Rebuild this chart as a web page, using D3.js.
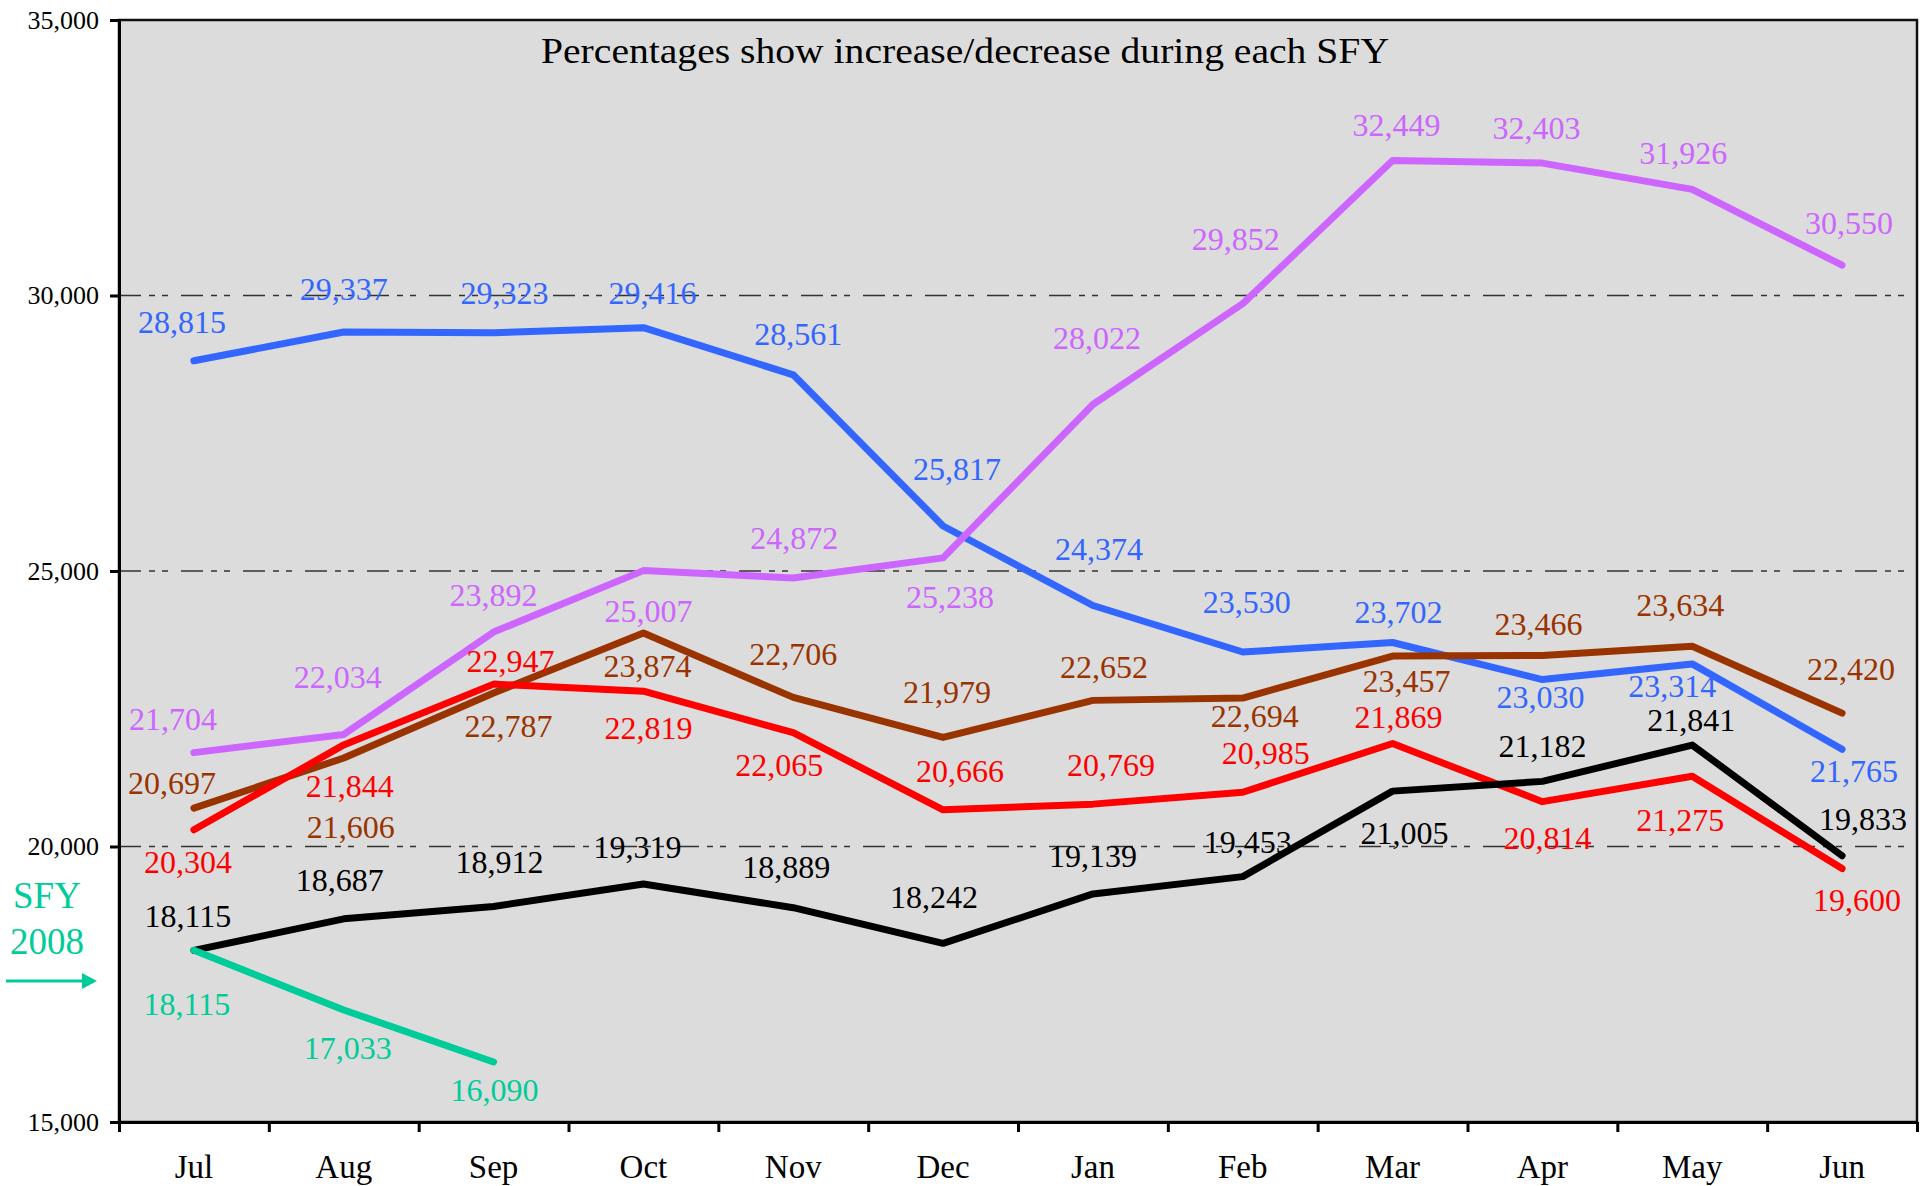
<!DOCTYPE html>
<html lang="en">
  <head>
    <meta charset="utf-8">
    <title>SFY monthly counts</title>
    <script src="https://cdn.jsdelivr.net/npm/d3@7"></script>
    <style>
      body { margin: 0; background: #fff; }
      text { font-family: "Liberation Serif", "DejaVu Serif", serif; }
    </style>
  </head>
  <body>
    <div id="main"></div>
  </body>

  <script type="text/javascript">

      // months of the state fiscal year
      const months = ['Jul','Aug','Sep','Oct','Nov','Dec','Jan','Feb','Mar','Apr','May','Jun'];
      const yTicks = [15000, 20000, 25000, 30000, 35000];
      const gridTicks = [20000, 25000, 30000];

      // one array per year line
      const blueVals   = [28815,29337,29323,29416,28561,25817,24374,23530,23702,23030,23314,21765];
      const purpleVals = [21704,22034,23892,25007,24872,25238,28022,29852,32449,32403,31926,30550];
      const brownVals  = [20697,21606,22787,23874,22706,21979,22652,22694,23457,23466,23634,22420];
      const redVals    = [20304,21844,22947,22819,22065,20666,20769,20985,21869,20814,21275,19600];
      const blackVals  = [18115,18687,18912,19319,18889,18242,19139,19453,21005,21182,21841,19833];
      const greenVals  = [18115,17033,16090];

      // where each value label sits relative to its point (px)
      const blueLbl   = [[-12,-39],[0,-43],[11,-40],[9,-35],[5,-41],[14,-57],[6,-57],[4,-50],[6,-31],[-2,17],[-20,22],[12,22]];
      const purpleLbl = [[-21,-34],[-6,-58],[0,-37],[5,40],[1,-40],[7,39],[4,-67],[-7,-65],[4,-36],[-6,-35],[-9,-37],[7,-42]];
      const brownLbl  = [[-22,-25],[7,69],[15,33],[4,33],[0,-44],[4,-46],[11,-34],[12,18],[14,25],[-4,-32],[-12,-41],[9,-44]];
      const redLbl    = [[-6,32],[6,41],[17,-23],[5,37],[-14,32],[17,-39],[18,-39],[23,-39],[6,-27],[5,36],[-12,44],[15,31]];
      const blackLbl  = [[-6,-35],[-4,-39],[6,-45],[-6,-37],[-7,-41],[-9,-47],[0,-38],[5,-35],[12,42],[0,-36],[-1,-25],[21,-37]];
      const greenLbl  = [[-7,53],[4,38],[1,28]];

      const series = [
        {vals: blueVals,   lbl: blueLbl,   color: '#3366ff'},
        {vals: purpleVals, lbl: purpleLbl, color: '#cc66ff'},
        {vals: brownVals,  lbl: brownLbl,  color: '#993300'},
        {vals: redVals,    lbl: redLbl,    color: '#ff0000'},
        {vals: blackVals,  lbl: blackLbl,  color: '#000000'},
        {vals: greenVals,  lbl: greenLbl,  color: '#00cc99'}
      ];

      const W = 1929, H = 1186;
      const pLeft = 119, pRight = 1917, pTop = 20, pBottom = 1122;

      let canvas = d3.select('#main').append('svg')
        .attr('width', W)
        .attr('height', H);

      const x = d3.scaleBand().domain(months).range([pLeft, pRight]);
      const xEdge = d3.scaleLinear().domain([0, months.length]).range([pLeft, pRight]);
      const y = d3.scaleLinear().domain([15000, 35000]).range([pBottom, pTop]);
      const cx = (i) => x(months[i]) + x.bandwidth() / 2;

      // plot background
      canvas.append('rect')
        .attr('x', pLeft).attr('y', pTop)
        .attr('width', pRight - pLeft).attr('height', pBottom - pTop)
        .attr('fill', '#dcdcdc')
        .attr('stroke', '#111')
        .attr('stroke-width', 2.5);

      // dashed grid
      canvas.selectAll('line.grid')
        .data(gridTicks)
        .enter()
        .append('line')
        .attr('class', 'grid')
        .attr('x1', pLeft).attr('x2', pRight)
        .attr('y1', d => y(d)).attr('y2', d => y(d))
        .attr('stroke', '#333')
        .attr('stroke-width', 1.4)
        .attr('stroke-dasharray', '22,8,6,7,6,13');

      // y axis
      const yAxis = canvas.append('g')
        .attr('transform', `translate(${pLeft},0)`)
        .call(d3.axisLeft(y).tickValues(yTicks).tickFormat(d3.format(',')).tickSize(9).tickPadding(11));
      yAxis.select('.domain').attr('stroke', '#000').attr('stroke-width', 3);
      yAxis.selectAll('.tick line').attr('stroke', '#000').attr('stroke-width', 3);
      yAxis.selectAll('.tick text')
        .attr('font-family', '"Liberation Serif", serif')
        .attr('font-size', '26px')
        .attr('fill', '#000');

      // x axis: ticks at band edges, labels at band centres
      const xAxis = canvas.append('g')
        .attr('transform', `translate(0,${pBottom})`)
        .call(d3.axisBottom(xEdge).tickValues(d3.range(months.length + 1)).tickFormat('').tickSize(10).tickSizeOuter(0));
      xAxis.select('.domain').attr('stroke', '#000').attr('stroke-width', 3);
      xAxis.selectAll('.tick line').attr('stroke', '#000').attr('stroke-width', 3);

      canvas.selectAll('text.month')
        .data(months)
        .enter()
        .append('text')
        .attr('class', 'month')
        .attr('x', d => x(d) + x.bandwidth() / 2)
        .attr('y', 1178)
        .attr('text-anchor', 'middle')
        .attr('font-size', '33px')
        .attr('fill', '#000')
        .text(d => d);

      // lines
      const line = d3.line()
        .x((d, i) => cx(i))
        .y(d => y(d));

      canvas.selectAll('path.series')
        .data(series)
        .enter()
        .append('path')
        .attr('class', 'series')
        .attr('d', d => line(d.vals))
        .attr('fill', 'none')
        .attr('stroke', d => d.color)
        .attr('stroke-width', 7)
        .attr('stroke-linejoin', 'round')
        .attr('stroke-linecap', 'round');

      // value labels
      const fmt = d3.format(',');
      series.forEach(s => {
        canvas.selectAll(null)
          .data(s.vals)
          .enter()
          .append('text')
          .attr('x', (d, i) => cx(i) + s.lbl[i][0])
          .attr('y', (d, i) => y(d) + s.lbl[i][1])
          .attr('dy', '0.35em')
          .attr('text-anchor', 'middle')
          .attr('font-size', '32px')
          .attr('fill', s.color)
          .text(d => fmt(d));
      });

      // title note
      canvas.append('text')
        .attr('x', 965)
        .attr('y', 63)
        .attr('text-anchor', 'middle')
        .attr('font-size', '35px')
        .attr('textLength', 848)
        .attr('lengthAdjust', 'spacingAndGlyphs')
        .attr('fill', '#000')
        .text('Percentages show increase/decrease during each SFY');

      // SFY 2008 marker
      canvas.append('text')
        .attr('x', 47).attr('y', 908)
        .attr('text-anchor', 'middle')
        .attr('font-size', '37px')
        .attr('fill', '#00cc99')
        .text('SFY');
      canvas.append('text')
        .attr('x', 47).attr('y', 954)
        .attr('text-anchor', 'middle')
        .attr('font-size', '37px')
        .attr('fill', '#00cc99')
        .text('2008');
      canvas.append('line')
        .attr('x1', 6).attr('x2', 84)
        .attr('y1', 981).attr('y2', 981)
        .attr('stroke', '#00cc99')
        .attr('stroke-width', 3);
      canvas.append('path')
        .attr('d', 'M82,973 L97,981 L82,989 Z')
        .attr('fill', '#00cc99');

  </script>
</html>
